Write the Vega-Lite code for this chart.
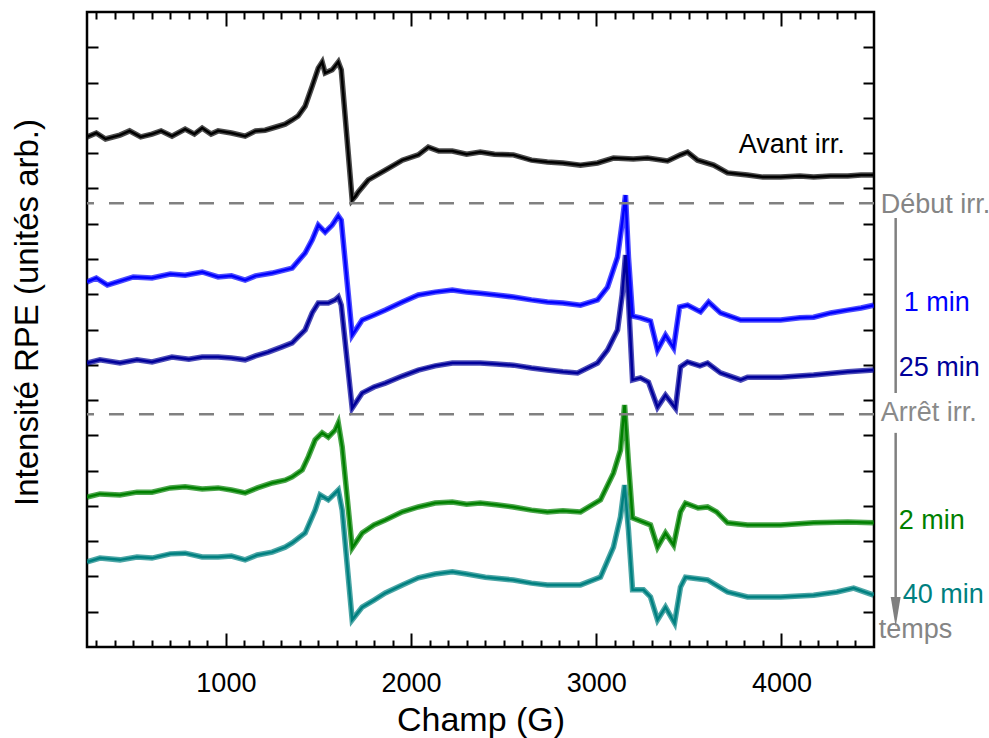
{
  "$schema": "https://vega.github.io/schema/vega-lite/v6.json",
  "width": 787,
  "height": 635,
  "autosize": {"type": "none"},
  "padding": {"left": 87, "top": 12, "right": 115, "bottom": 91},
  "background": "white",
  "config": {
    "view": {"stroke": "black", "strokeWidth": 2.5},
    "font": "Liberation Sans",
    "axis": {"domain": false, "grid": false, "tickColor": "black", "tickWidth": 2, "labelFont": "Liberation Sans", "titleFont": "Liberation Sans", "labelColor": "black", "titleColor": "black", "titleFontWeight": "normal"}
  },
  "datasets": {
    "spectra": [
      {"s":"Avant irr.","x":250,"y":14.46},{"s":"Avant irr.","x":300,"y":14.57},{"s":"Avant irr.","x":350,"y":14.40},{"s":"Avant irr.","x":428,"y":14.51},{"s":"Avant irr.","x":480,"y":14.63},{"s":"Avant irr.","x":540,"y":14.46},{"s":"Avant irr.","x":601,"y":14.54},{"s":"Avant irr.","x":650,"y":14.63},{"s":"Avant irr.","x":709,"y":14.48},{"s":"Avant irr.","x":780,"y":14.68},{"s":"Avant irr.","x":830,"y":14.54},{"s":"Avant irr.","x":872,"y":14.71},{"s":"Avant irr.","x":920,"y":14.54},{"s":"Avant irr.","x":958,"y":14.63},{"s":"Avant irr.","x":1030,"y":14.57},{"s":"Avant irr.","x":1104,"y":14.48},{"s":"Avant irr.","x":1160,"y":14.63},{"s":"Avant irr.","x":1212,"y":14.65},{"s":"Avant irr.","x":1270,"y":14.74},{"s":"Avant irr.","x":1320,"y":14.82},{"s":"Avant irr.","x":1358,"y":14.94},{"s":"Avant irr.","x":1390,"y":15.05},{"s":"Avant irr.","x":1428,"y":15.33},{"s":"Avant irr.","x":1466,"y":15.90},{"s":"Avant irr.","x":1499,"y":16.41},{"s":"Avant irr.","x":1520,"y":16.58},{"s":"Avant irr.","x":1536,"y":16.27},{"s":"Avant irr.","x":1574,"y":16.36},{"s":"Avant irr.","x":1607,"y":16.58},{"s":"Avant irr.","x":1623,"y":16.36},{"s":"Avant irr.","x":1682,"y":12.67},{"s":"Avant irr.","x":1700,"y":12.78},{"s":"Avant irr.","x":1715,"y":12.90},{"s":"Avant irr.","x":1769,"y":13.24},{"s":"Avant irr.","x":1861,"y":13.52},{"s":"Avant irr.","x":1953,"y":13.80},{"s":"Avant irr.","x":2039,"y":13.95},{"s":"Avant irr.","x":2093,"y":14.17},{"s":"Avant irr.","x":2150,"y":14.06},{"s":"Avant irr.","x":2223,"y":14.06},{"s":"Avant irr.","x":2300,"y":13.97},{"s":"Avant irr.","x":2374,"y":14.03},{"s":"Avant irr.","x":2450,"y":13.97},{"s":"Avant irr.","x":2553,"y":13.95},{"s":"Avant irr.","x":2650,"y":13.80},{"s":"Avant irr.","x":2736,"y":13.75},{"s":"Avant irr.","x":2820,"y":13.72},{"s":"Avant irr.","x":2915,"y":13.66},{"s":"Avant irr.","x":3007,"y":13.72},{"s":"Avant irr.","x":3093,"y":13.86},{"s":"Avant irr.","x":3200,"y":13.83},{"s":"Avant irr.","x":3277,"y":13.86},{"s":"Avant irr.","x":3385,"y":13.78},{"s":"Avant irr.","x":3455,"y":13.95},{"s":"Avant irr.","x":3493,"y":14.03},{"s":"Avant irr.","x":3547,"y":13.80},{"s":"Avant irr.","x":3634,"y":13.66},{"s":"Avant irr.","x":3709,"y":13.44},{"s":"Avant irr.","x":3817,"y":13.38},{"s":"Avant irr.","x":3900,"y":13.32},{"s":"Avant irr.","x":3996,"y":13.32},{"s":"Avant irr.","x":4100,"y":13.35},{"s":"Avant irr.","x":4174,"y":13.32},{"s":"Avant irr.","x":4266,"y":13.35},{"s":"Avant irr.","x":4358,"y":13.35},{"s":"Avant irr.","x":4430,"y":13.38},{"s":"Avant irr.","x":4498,"y":13.38},

      {"s":"1 min","x":250,"y":10.35},{"s":"1 min","x":300,"y":10.46},{"s":"1 min","x":360,"y":10.26},{"s":"1 min","x":428,"y":10.37},{"s":"1 min","x":500,"y":10.49},{"s":"1 min","x":601,"y":10.46},{"s":"1 min","x":700,"y":10.57},{"s":"1 min","x":780,"y":10.54},{"s":"1 min","x":872,"y":10.63},{"s":"1 min","x":958,"y":10.49},{"s":"1 min","x":1030,"y":10.52},{"s":"1 min","x":1104,"y":10.40},{"s":"1 min","x":1160,"y":10.52},{"s":"1 min","x":1250,"y":10.60},{"s":"1 min","x":1320,"y":10.69},{"s":"1 min","x":1358,"y":10.74},{"s":"1 min","x":1428,"y":11.17},{"s":"1 min","x":1466,"y":11.54},{"s":"1 min","x":1499,"y":11.96},{"s":"1 min","x":1536,"y":11.76},{"s":"1 min","x":1574,"y":11.96},{"s":"1 min","x":1607,"y":12.22},{"s":"1 min","x":1623,"y":12.10},{"s":"1 min","x":1682,"y":8.84},{"s":"1 min","x":1736,"y":9.27},{"s":"1 min","x":1800,"y":9.41},{"s":"1 min","x":1861,"y":9.55},{"s":"1 min","x":1953,"y":9.78},{"s":"1 min","x":2039,"y":9.98},{"s":"1 min","x":2130,"y":10.06},{"s":"1 min","x":2223,"y":10.12},{"s":"1 min","x":2300,"y":10.06},{"s":"1 min","x":2374,"y":10.03},{"s":"1 min","x":2460,"y":9.98},{"s":"1 min","x":2553,"y":9.92},{"s":"1 min","x":2650,"y":9.84},{"s":"1 min","x":2736,"y":9.78},{"s":"1 min","x":2820,"y":9.75},{"s":"1 min","x":2915,"y":9.69},{"s":"1 min","x":3007,"y":9.84},{"s":"1 min","x":3061,"y":10.20},{"s":"1 min","x":3115,"y":11.05},{"s":"1 min","x":3142,"y":12.10},{"s":"1 min","x":3158,"y":12.81},{"s":"1 min","x":3174,"y":11.05},{"s":"1 min","x":3196,"y":9.38},{"s":"1 min","x":3239,"y":9.33},{"s":"1 min","x":3293,"y":9.24},{"s":"1 min","x":3331,"y":8.42},{"s":"1 min","x":3374,"y":8.84},{"s":"1 min","x":3418,"y":8.48},{"s":"1 min","x":3450,"y":9.64},{"s":"1 min","x":3493,"y":9.69},{"s":"1 min","x":3563,"y":9.50},{"s":"1 min","x":3607,"y":9.78},{"s":"1 min","x":3671,"y":9.47},{"s":"1 min","x":3780,"y":9.27},{"s":"1 min","x":3900,"y":9.27},{"s":"1 min","x":3996,"y":9.27},{"s":"1 min","x":4100,"y":9.33},{"s":"1 min","x":4174,"y":9.35},{"s":"1 min","x":4266,"y":9.47},{"s":"1 min","x":4358,"y":9.55},{"s":"1 min","x":4430,"y":9.61},{"s":"1 min","x":4498,"y":9.69},

      {"s":"25 min","x":250,"y":8.05},{"s":"25 min","x":320,"y":8.14},{"s":"25 min","x":428,"y":8.05},{"s":"25 min","x":520,"y":8.14},{"s":"25 min","x":601,"y":8.08},{"s":"25 min","x":709,"y":8.22},{"s":"25 min","x":800,"y":8.16},{"s":"25 min","x":872,"y":8.22},{"s":"25 min","x":958,"y":8.22},{"s":"25 min","x":1030,"y":8.19},{"s":"25 min","x":1104,"y":8.14},{"s":"25 min","x":1160,"y":8.25},{"s":"25 min","x":1228,"y":8.36},{"s":"25 min","x":1300,"y":8.50},{"s":"25 min","x":1358,"y":8.62},{"s":"25 min","x":1390,"y":8.79},{"s":"25 min","x":1428,"y":8.99},{"s":"25 min","x":1466,"y":9.47},{"s":"25 min","x":1499,"y":9.75},{"s":"25 min","x":1553,"y":9.75},{"s":"25 min","x":1590,"y":9.84},{"s":"25 min","x":1607,"y":9.92},{"s":"25 min","x":1623,"y":9.69},{"s":"25 min","x":1682,"y":6.77},{"s":"25 min","x":1736,"y":7.20},{"s":"25 min","x":1800,"y":7.37},{"s":"25 min","x":1861,"y":7.48},{"s":"25 min","x":1953,"y":7.68},{"s":"25 min","x":2039,"y":7.85},{"s":"25 min","x":2130,"y":7.97},{"s":"25 min","x":2223,"y":8.05},{"s":"25 min","x":2374,"y":8.05},{"s":"25 min","x":2460,"y":8.02},{"s":"25 min","x":2553,"y":7.99},{"s":"25 min","x":2650,"y":7.91},{"s":"25 min","x":2736,"y":7.85},{"s":"25 min","x":2820,"y":7.80},{"s":"25 min","x":2899,"y":7.77},{"s":"25 min","x":3007,"y":8.05},{"s":"25 min","x":3061,"y":8.42},{"s":"25 min","x":3115,"y":8.99},{"s":"25 min","x":3140,"y":9.98},{"s":"25 min","x":3158,"y":11.11},{"s":"25 min","x":3174,"y":9.84},{"s":"25 min","x":3196,"y":7.57},{"s":"25 min","x":3239,"y":7.63},{"s":"25 min","x":3282,"y":7.51},{"s":"25 min","x":3331,"y":6.80},{"s":"25 min","x":3374,"y":7.14},{"s":"25 min","x":3428,"y":6.77},{"s":"25 min","x":3455,"y":7.94},{"s":"25 min","x":3493,"y":8.08},{"s":"25 min","x":3560,"y":7.97},{"s":"25 min","x":3601,"y":8.05},{"s":"25 min","x":3671,"y":7.77},{"s":"25 min","x":3780,"y":7.57},{"s":"25 min","x":3817,"y":7.65},{"s":"25 min","x":3996,"y":7.65},{"s":"25 min","x":4174,"y":7.71},{"s":"25 min","x":4358,"y":7.80},{"s":"25 min","x":4498,"y":7.85},

      {"s":"2 min","x":250,"y":4.25},{"s":"2 min","x":320,"y":4.34},{"s":"2 min","x":428,"y":4.31},{"s":"2 min","x":520,"y":4.39},{"s":"2 min","x":601,"y":4.39},{"s":"2 min","x":700,"y":4.51},{"s":"2 min","x":780,"y":4.54},{"s":"2 min","x":872,"y":4.48},{"s":"2 min","x":958,"y":4.51},{"s":"2 min","x":1030,"y":4.45},{"s":"2 min","x":1104,"y":4.37},{"s":"2 min","x":1170,"y":4.51},{"s":"2 min","x":1250,"y":4.65},{"s":"2 min","x":1320,"y":4.73},{"s":"2 min","x":1358,"y":4.82},{"s":"2 min","x":1412,"y":5.02},{"s":"2 min","x":1445,"y":5.39},{"s":"2 min","x":1482,"y":5.87},{"s":"2 min","x":1520,"y":6.07},{"s":"2 min","x":1553,"y":5.95},{"s":"2 min","x":1590,"y":6.15},{"s":"2 min","x":1607,"y":6.35},{"s":"2 min","x":1628,"y":5.67},{"s":"2 min","x":1682,"y":2.81},{"s":"2 min","x":1736,"y":3.23},{"s":"2 min","x":1800,"y":3.46},{"s":"2 min","x":1861,"y":3.60},{"s":"2 min","x":1953,"y":3.83},{"s":"2 min","x":2039,"y":3.97},{"s":"2 min","x":2130,"y":4.08},{"s":"2 min","x":2223,"y":4.11},{"s":"2 min","x":2300,"y":4.05},{"s":"2 min","x":2374,"y":4.08},{"s":"2 min","x":2460,"y":4.03},{"s":"2 min","x":2553,"y":3.97},{"s":"2 min","x":2650,"y":3.88},{"s":"2 min","x":2736,"y":3.83},{"s":"2 min","x":2820,"y":3.86},{"s":"2 min","x":2915,"y":3.83},{"s":"2 min","x":3023,"y":4.17},{"s":"2 min","x":3093,"y":4.93},{"s":"2 min","x":3131,"y":5.58},{"s":"2 min","x":3153,"y":6.86},{"s":"2 min","x":3174,"y":5.22},{"s":"2 min","x":3196,"y":3.66},{"s":"2 min","x":3255,"y":3.54},{"s":"2 min","x":3293,"y":3.46},{"s":"2 min","x":3331,"y":2.83},{"s":"2 min","x":3374,"y":3.23},{"s":"2 min","x":3418,"y":2.89},{"s":"2 min","x":3455,"y":3.83},{"s":"2 min","x":3482,"y":4.08},{"s":"2 min","x":3550,"y":3.94},{"s":"2 min","x":3601,"y":3.97},{"s":"2 min","x":3650,"y":3.83},{"s":"2 min","x":3709,"y":3.52},{"s":"2 min","x":3817,"y":3.46},{"s":"2 min","x":3996,"y":3.46},{"s":"2 min","x":4174,"y":3.52},{"s":"2 min","x":4358,"y":3.54},{"s":"2 min","x":4498,"y":3.52},

      {"s":"40 min","x":250,"y":2.41},{"s":"40 min","x":320,"y":2.52},{"s":"40 min","x":428,"y":2.47},{"s":"40 min","x":520,"y":2.55},{"s":"40 min","x":601,"y":2.52},{"s":"40 min","x":700,"y":2.64},{"s":"40 min","x":780,"y":2.66},{"s":"40 min","x":872,"y":2.55},{"s":"40 min","x":958,"y":2.55},{"s":"40 min","x":1030,"y":2.58},{"s":"40 min","x":1104,"y":2.47},{"s":"40 min","x":1170,"y":2.61},{"s":"40 min","x":1250,"y":2.69},{"s":"40 min","x":1320,"y":2.83},{"s":"40 min","x":1358,"y":2.95},{"s":"40 min","x":1428,"y":3.23},{"s":"40 min","x":1482,"y":3.88},{"s":"40 min","x":1509,"y":4.31},{"s":"40 min","x":1553,"y":4.17},{"s":"40 min","x":1607,"y":4.45},{"s":"40 min","x":1628,"y":3.88},{"s":"40 min","x":1682,"y":0.77},{"s":"40 min","x":1736,"y":1.13},{"s":"40 min","x":1800,"y":1.33},{"s":"40 min","x":1861,"y":1.53},{"s":"40 min","x":1953,"y":1.76},{"s":"40 min","x":2039,"y":1.96},{"s":"40 min","x":2130,"y":2.07},{"s":"40 min","x":2223,"y":2.13},{"s":"40 min","x":2300,"y":2.07},{"s":"40 min","x":2401,"y":1.98},{"s":"40 min","x":2553,"y":1.90},{"s":"40 min","x":2650,"y":1.81},{"s":"40 min","x":2736,"y":1.76},{"s":"40 min","x":2915,"y":1.76},{"s":"40 min","x":3023,"y":1.98},{"s":"40 min","x":3093,"y":2.83},{"s":"40 min","x":3131,"y":3.69},{"s":"40 min","x":3153,"y":4.59},{"s":"40 min","x":3174,"y":3.32},{"s":"40 min","x":3196,"y":1.62},{"s":"40 min","x":3255,"y":1.62},{"s":"40 min","x":3293,"y":1.42},{"s":"40 min","x":3331,"y":0.77},{"s":"40 min","x":3374,"y":1.13},{"s":"40 min","x":3423,"y":0.68},{"s":"40 min","x":3455,"y":1.70},{"s":"40 min","x":3482,"y":1.98},{"s":"40 min","x":3601,"y":1.90},{"s":"40 min","x":3709,"y":1.56},{"s":"40 min","x":3817,"y":1.42},{"s":"40 min","x":3996,"y":1.42},{"s":"40 min","x":4174,"y":1.47},{"s":"40 min","x":4300,"y":1.56},{"s":"40 min","x":4390,"y":1.67},{"s":"40 min","x":4498,"y":1.47}
    ],
    "labels": [
      {"s":"Avant irr.","x":3769,"y":14.23},
      {"s":"Début irr.","x":4536,"y":12.53},
      {"s":"1 min","x":4661,"y":9.75},
      {"s":"25 min","x":4634,"y":7.91},
      {"s":"Arrêt irr.","x":4536,"y":6.63},
      {"s":"2 min","x":4634,"y":3.57},
      {"s":"40 min","x":4655,"y":1.47},
      {"s":"temps","x":4525,"y":0.48}
    ],
    "markers": [{"y":12.58},{"y":6.6}],
    "arrow": [{"x":4617,"y":12.16,"y2":7.2},{"x":4617,"y":6.07,"y2":1.3}],
    "arrowhead": [{"x":4617,"y":0.99}]
  },
  "resolve": {"axis": {"x": "independent", "y": "independent"}},
  "layer": [
    {
      "data": {"name": "spectra"},
      "mark": {"type": "line", "strokeWidth": 5.5, "opacity": 0.7, "clip": true},
      "encoding": {
        "x": {"field": "x", "type": "quantitative",
              "scale": {"domain": [250, 4500], "nice": false, "zero": false},
              "axis": {"orient": "bottom", "title": "Champ (G)", "values": [300,400,500,600,700,800,900,1000,1100,1200,1300,1400,1500,1600,1700,1800,1900,2000,2100,2200,2300,2400,2500,2600,2700,2800,2900,3000,3100,3200,3300,3400,3500,3600,3700,3800,3900,4000,4100,4200,4300,4400],
                       "tickSize": {"condition": {"test": "datum.value % 1000 === 0", "value": -14}, "value": -7},
                       "labelExpr": "datum.value % 1000 === 0 ? datum.label : ''",
                       "format": "d", "labelOverlap": false, "labelFlush": false, "labelFontSize": 27, "labelPadding": 37,
                       "titleFontSize": 34, "titlePadding": 0}},
        "y": {"field": "y", "type": "quantitative",
              "scale": {"domain": [0, 18], "nice": false, "zero": false},
              "axis": {"orient": "left", "title": "Intensité RPE (unités arb.)", "values": [1,2,3,4,5,6,7,8,9,10,11,12,13,14,15,16,17],
                       "labels": false, "tickSize": -11, "titleFontSize": 33, "titlePadding": 42, "titleY": 300}},
        "color": {"field": "s", "type": "nominal", "legend": null,
                  "scale": {"domain": ["Avant irr.","1 min","25 min","2 min","40 min","Début irr.","Arrêt irr.","temps"],
                            "range": ["#000000","#0000ff","#00009a","#008000","#008080","#858585","#8a8a8a","#858585"]}}
      }
    },
    {
      "data": {"name": "spectra"},
      "mark": {"type": "line", "strokeWidth": 2.5, "clip": true},
      "encoding": {
        "x": {"field": "x", "type": "quantitative", "scale": {"domain": [250, 4500], "nice": false, "zero": false}, "axis": null},
        "y": {"field": "y", "type": "quantitative", "scale": {"domain": [0, 18], "nice": false, "zero": false}, "axis": null},
        "color": {"field": "s", "type": "nominal", "legend": null}
      }
    },
    {
      "data": {"name": "markers"},
      "mark": {"type": "rule", "color": "#808080", "strokeWidth": 2.5, "strokeDash": [15, 15]},
      "encoding": {
        "y": {"field": "y", "type": "quantitative",
              "scale": {"domain": [0, 18], "nice": false, "zero": false},
              "axis": {"orient": "right", "title": null, "values": [1,2,3,4,5,6,7,8,9,10,11,12,13,14,15,16,17], "labels": false, "tickSize": -11}}
      }
    },
    {
      "data": {"name": "labels"},
      "mark": {"type": "text", "align": "left", "baseline": "middle", "fontSize": 27, "font": "Liberation Sans"},
      "encoding": {
        "x": {"field": "x", "type": "quantitative",
              "scale": {"domain": [250, 4500], "nice": false, "zero": false},
              "axis": {"orient": "top", "title": null, "values": [300,400,500,600,700,800,900,1000,1100,1200,1300,1400,1500,1600,1700,1800,1900,2000,2100,2200,2300,2400,2500,2600,2700,2800,2900,3000,3100,3200,3300,3400,3500,3600,3700,3800,3900,4000,4100,4200,4300,4400],
                       "tickSize": {"condition": {"test": "datum.value % 1000 === 0", "value": -14}, "value": -7},
                       "labels": false}},
        "y": {"field": "y", "type": "quantitative", "scale": {"domain": [0, 18], "nice": false, "zero": false}, "axis": null},
        "text": {"field": "s"},
        "color": {"field": "s", "type": "nominal", "legend": null}
      }
    },
    {
      "data": {"name": "arrow"},
      "mark": {"type": "rule", "color": "#808080", "strokeWidth": 2.5},
      "encoding": {
        "x": {"field": "x", "type": "quantitative", "scale": {"domain": [250, 4500], "nice": false, "zero": false}, "axis": null},
        "y": {"field": "y", "type": "quantitative", "scale": {"domain": [0, 18], "nice": false, "zero": false}, "axis": null},
        "y2": {"field": "y2"}
      }
    },
    {
      "data": {"name": "arrowhead"},
      "mark": {"type": "point", "filled": true, "color": "#808080", "opacity": 1, "size": 900, "shape": "M-0.33,-1L0.33,-1L0,1Z"},
      "encoding": {
        "x": {"field": "x", "type": "quantitative", "scale": {"domain": [250, 4500], "nice": false, "zero": false}, "axis": null},
        "y": {"field": "y", "type": "quantitative", "scale": {"domain": [0, 18], "nice": false, "zero": false}, "axis": null}
      }
    }
  ]
}
